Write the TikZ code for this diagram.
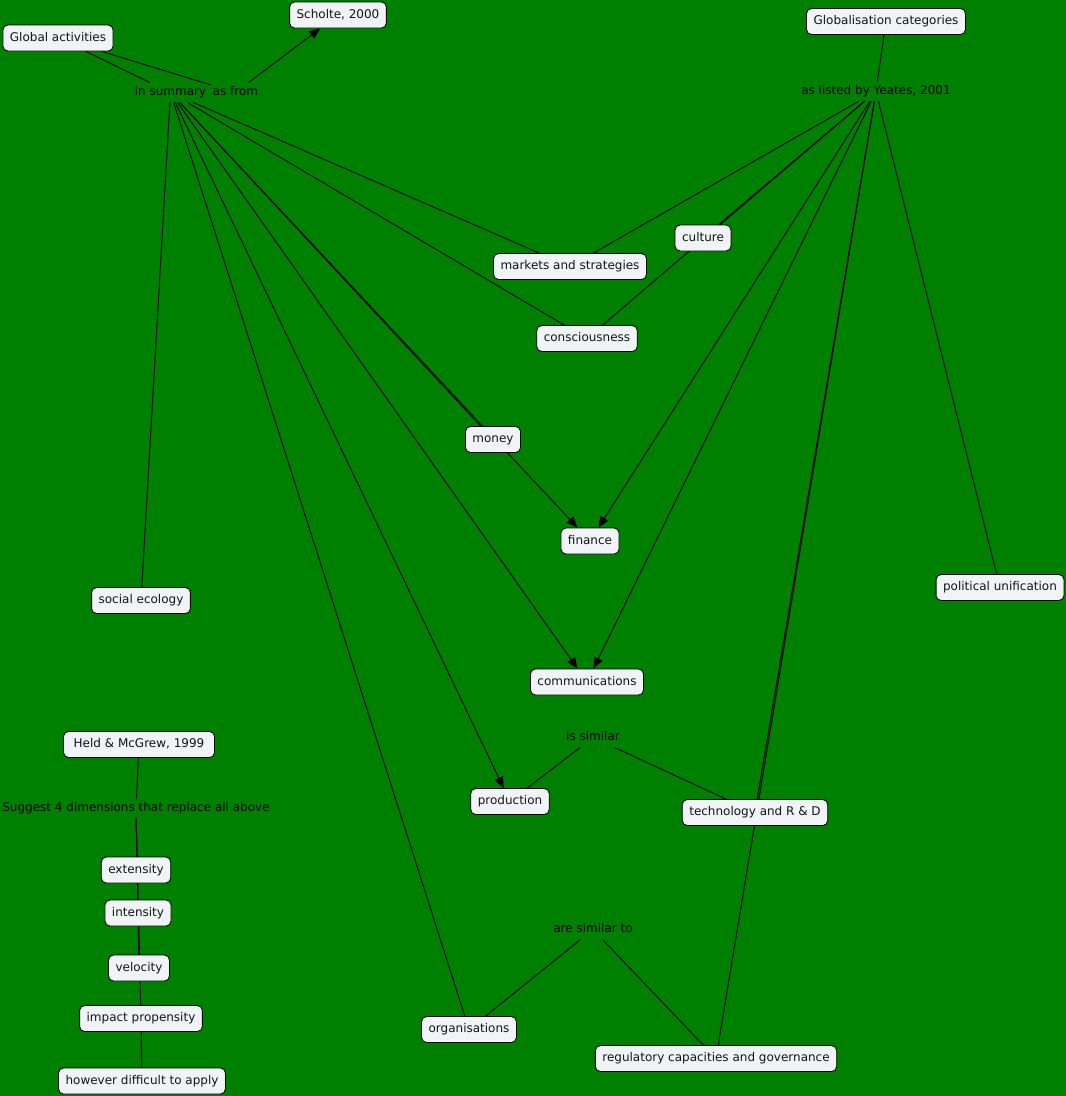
\documentclass[tikz,border=0pt]{standalone}
\usepackage{fontspec}
\setmainfont{DejaVu Sans}
\usetikzlibrary{arrows.meta}
\pgfdeclarelayer{bg}
\pgfdeclarelayer{lines}
\pgfsetlayers{bg,lines,main}
\definecolor{bggreen}{RGB}{0,128,0}
\definecolor{boxfill}{RGB}{240,244,247}
\definecolor{txt}{RGB}{20,20,20}
\tikzset{
  concept/.style={draw=black, fill=boxfill, rounded corners=5pt, line width=0.8pt,
    minimum height=26pt, inner xsep=7pt, text height=9pt, text depth=2.5pt,
    font=\fontsize{12}{14}\selectfont, text=txt},
  linkph/.style={inner xsep=2pt, inner ysep=4pt, text height=9pt, text depth=2.5pt,
    font=\fontsize{12}{14}\selectfont, text=black},
  conn/.style={line width=0.9pt, draw=black},
  arr/.style={conn, -{Triangle[length=11pt,width=9pt]}},
}
\begin{document}
\begin{tikzpicture}[x=1pt,y=-1pt]
\begin{pgfonlayer}{bg}
\fill[bggreen] (0,0) rectangle (1066,1096);
\end{pgfonlayer}
\useasboundingbox (0,0) rectangle (1066,1096);

% concepts
\node[concept] (scholte) at (338,15) {Scholte, 2000};
\node[concept] (global) at (58,38) {Global activities};
\node[concept] (globcat) at (886,21.5) {Globalisation categories};
\node[concept] (markets) at (570,266.5) {markets and strategies};
\node[concept] (culture) at (703,238) {culture};
\node[concept] (conscious) at (587,338.5) {consciousness};
\node[concept] (money) at (493,439.5) {money};
\node[concept] (finance) at (590,541) {finance};
\node[concept] (socialeco) at (141,600.5) {social ecology};
\node[concept] (political) at (1000,587.5) {political unification};
\node[concept] (comms) at (587,682) {communications};
\node[concept] (production) at (510,801.5) {production};
\node[concept] (tech) at (755,812.5) {technology and R \& D};
\node[concept, minimum width=151pt] (held) at (139,744.5) {Held \& McGrew, 1999};
\node[concept] (extensity) at (136,870) {extensity};
\node[concept] (intensity) at (138,913) {intensity};
\node[concept] (velocity) at (139,968) {velocity};
\node[concept] (impact) at (141,1018.5) {impact propensity};
\node[concept] (however) at (142,1081) {however difficult to apply};
\node[concept] (organ) at (469,1029.5) {organisations};
\node[concept] (regul) at (716,1058.5) {regulatory capacities and governance};

% linking phrases
\node[linkph] (insum) at (170.5,92.5) {in summary};
\node[linkph] (asfrom) at (235.5,92.5) {as from};
\node[linkph] (yeates) at (876,91.5) {as listed by Yeates, 2001};
\node[linkph] (issimilar) at (593,737.5) {is similar};
\node[linkph] (aresim) at (593,929.5) {are similar to};
\node[linkph] (suggest) at (136,808.5) {Suggest 4 dimensions that replace all above};

\begin{pgfonlayer}{lines}
\draw[conn] (global) -- (insum);
\draw[conn] (global) -- (asfrom);
\draw[arr] (asfrom) -- (scholte);

\draw[conn] (insum) -- (socialeco);
\draw[conn] (insum) -- (organ);
\draw[arr] (insum) -- (production);
\draw[arr] (insum) -- (comms);
\draw[conn] (insum) -- (money);
\draw[arr] (insum) -- (finance);
\draw[conn] (insum) -- (conscious);
\draw[conn] (insum) -- (markets);

\draw[conn] (globcat) -- (yeates);
\draw[conn] (yeates) -- (markets);
\draw[conn] (yeates) -- (culture);
\draw[conn] (yeates) -- (conscious);
\draw[arr] (yeates) -- (finance);
\draw[arr] (yeates) -- (comms);
\draw[conn] (yeates) -- (tech);
\draw[conn] (yeates) -- (regul);
\draw[conn] (yeates) -- (political);

\draw[conn] (issimilar) -- (production);
\draw[conn] (issimilar) -- (tech);
\draw[conn] (aresim) -- (organ);
\draw[conn] (aresim) -- (regul);

\draw[conn] (held) -- (suggest);
\draw[conn] (suggest) -- (extensity);
\draw[conn] (suggest) -- (intensity);
\draw[conn] (suggest) -- (velocity);
\draw[conn] (suggest) -- (impact);
\draw[conn] (impact) -- (however);
\end{pgfonlayer}
\end{tikzpicture}
\end{document}
